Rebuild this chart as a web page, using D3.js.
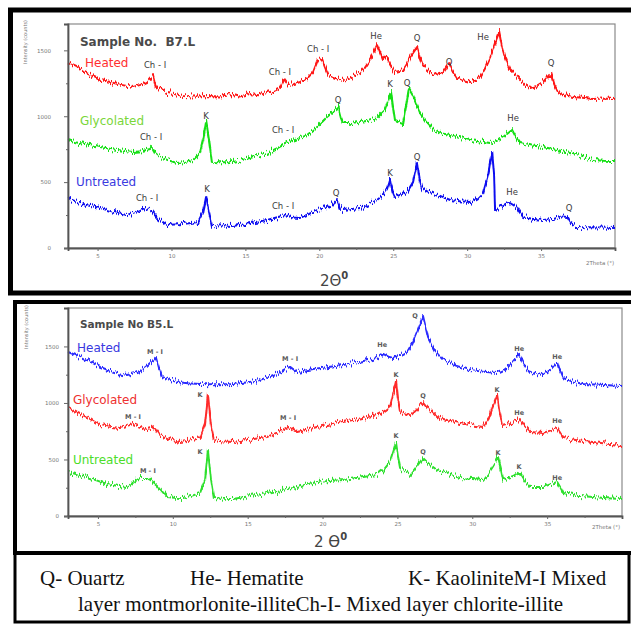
<!DOCTYPE html>
<html><head><meta charset="utf-8">
<script src="https://cdn.jsdelivr.net/npm/d3@7"></script>
<style>
html,body{margin:0;padding:0;background:#fff;}
svg{display:block;}
</style></head><body>
<svg id="fig" width="631" height="626"></svg>
<script>
// ---- Sample B7.L : [2θ (deg), intensity (counts)] ----
const b7Heated = [[3.0,1411],[3.6,1380],[4.2,1330],[5.17,1275],[5.8,1262],[6.5,1240],[7.4,1222],[7.9,1238],[8.35,1260],[8.6,1290],[8.75,1313],[8.95,1222],[9.7,1176],[10.2,1168],[10.78,1153],[11.5,1150],[12.47,1153],[13.3,1150],[14.16,1161],[14.6,1150],[15.3,1168],[15.9,1160],[16.46,1176],[17.0,1195],[17.34,1214],[17.6,1282],[17.9,1237],[18.3,1245],[18.7,1260],[19.2,1290],[19.58,1335],[19.9,1426],[20.19,1434],[20.35,1380],[20.6,1313],[21.1,1290],[21.6,1275],[22.2,1300],[22.76,1328],[23.1,1370],[23.43,1426],[23.9,1540],[24.1,1490],[24.31,1426],[24.58,1449],[24.8,1390],[25.12,1335],[25.67,1350],[25.9,1390],[26.14,1449],[26.61,1525],[26.8,1450],[26.95,1404],[27.3,1350],[27.7,1313],[28.0,1325],[28.37,1335],[28.78,1404],[29.0,1350],[29.32,1297],[29.7,1275],[30.2,1260],[30.5,1270],[30.88,1297],[31.2,1360],[31.55,1449],[31.9,1560],[32.16,1639],[32.35,1530],[32.57,1442],[32.9,1350],[33.2,1320],[33.58,1275],[33.9,1240],[34.26,1214],[34.7,1230],[35.14,1260],[35.45,1300],[35.68,1328],[35.9,1240],[36.15,1184],[36.6,1160],[37.17,1146],[37.8,1140],[38.52,1131],[39.2,1135],[40.0,1131]];
const b7Glycolated = [[3.0,819],[3.6,800],[4.3,785],[5.17,766],[5.9,752],[6.6,740],[7.4,728],[8.0,735],[8.55,751],[8.68,766],[8.9,720],[9.22,690],[9.8,665],[10.37,645],[10.9,652],[11.46,668],[11.93,721],[12.13,819],[12.34,956],[12.54,819],[12.74,653],[13.4,650],[14.16,653],[14.7,665],[15.3,683],[15.9,700],[16.46,721],[17.2,760],[17.82,797],[18.5,825],[19.17,857],[19.85,918],[20.52,994],[20.93,1032],[21.27,1070],[21.45,990],[21.6,948],[22.2,950],[22.76,956],[23.3,965],[23.9,986],[24.45,1047],[24.85,1184],[25.0,1060],[25.12,971],[25.67,948],[25.94,1123],[26.07,1214],[26.34,1161],[26.82,1024],[27.2,960],[27.7,895],[28.3,870],[28.85,857],[29.5,835],[30.2,819],[30.9,808],[31.55,797],[32.0,812],[32.43,842],[33.04,895],[33.3,840],[33.58,797],[34.3,780],[35.14,766],[36.0,745],[36.96,721],[37.7,695],[38.52,668],[39.2,662],[40.0,660]];
const b7Untreated = [[3.0,379],[3.6,350],[4.3,325],[5.17,303],[5.9,280],[6.5,262],[6.99,250],[7.5,270],[7.87,288],[8.21,303],[8.55,296],[9.02,228],[9.7,175],[10.2,178],[10.78,182],[11.3,190],[11.8,197],[12.13,273],[12.34,387],[12.54,273],[12.74,175],[13.4,170],[14.16,167],[14.9,180],[15.6,195],[16.46,212],[17.1,232],[17.68,250],[18.2,232],[18.7,228],[19.3,258],[19.85,288],[20.52,303],[20.9,335],[21.2,364],[21.4,310],[21.6,288],[22.2,296],[22.76,303],[23.3,330],[23.9,364],[24.3,400],[24.58,440],[24.79,516],[24.95,430],[25.12,387],[25.5,405],[25.94,425],[26.34,500],[26.61,645],[26.78,520],[26.95,455],[27.3,430],[27.7,417],[28.3,390],[28.85,364],[29.5,355],[30.2,349],[30.7,375],[31.08,417],[31.42,554],[31.69,728],[31.82,554],[31.89,288],[32.1,300],[32.43,326],[32.9,349],[33.24,326],[33.5,280],[33.78,235],[34.4,222],[35.14,212],[35.9,222],[36.4,240],[36.76,235],[37.0,190],[37.44,159],[38.2,158],[39.0,155],[40.0,152]];

// ---- Sample B5.L ----
const b5Heated = [[3.0,1451],[3.6,1420],[4.27,1381],[4.7,1350],[5.14,1319],[5.8,1285],[6.4,1262],[6.94,1248],[7.4,1262],[7.81,1283],[8.2,1320],[8.48,1354],[8.7,1380],[8.88,1407],[9.08,1310],[9.28,1230],[9.8,1205],[10.28,1186],[11.0,1175],[11.82,1168],[12.9,1165],[14.02,1168],[14.9,1180],[15.83,1204],[16.5,1235],[17.16,1274],[17.5,1300],[17.83,1319],[18.3,1274],[18.8,1285],[19.37,1301],[20.4,1318],[21.37,1336],[22.5,1365],[23.64,1398],[24.04,1434],[24.4,1410],[24.71,1398],[25.2,1420],[25.65,1451],[26.0,1530],[26.31,1628],[26.71,1770],[26.9,1660],[27.05,1575],[27.5,1460],[28.05,1381],[28.9,1330],[29.85,1292],[30.8,1275],[31.66,1265],[32.1,1290],[32.53,1336],[33.13,1434],[33.5,1330],[33.86,1265],[34.3,1255],[34.73,1248],[35.2,1290],[35.67,1363],[35.85,1290],[36.07,1221],[36.7,1190],[37.4,1168],[38.5,1160],[40.0,1150]];
const b5Glycolated = [[3.0,956],[3.6,915],[4.27,876],[4.7,840],[5.14,805],[5.8,790],[6.47,779],[6.9,795],[7.34,814],[7.8,790],[8.28,761],[8.81,779],[9.15,717],[9.8,680],[10.48,655],[11.2,668],[11.82,690],[12.15,805],[12.35,1071],[12.55,805],[12.75,673],[13.4,660],[14.02,655],[15.1,675],[16.29,699],[17.0,740],[17.7,788],[18.3,743],[19.0,765],[19.63,788],[20.5,810],[21.37,832],[22.5,862],[23.64,894],[24.1,925],[24.51,965],[24.91,1195],[25.05,1020],[25.18,920],[25.85,894],[26.3,950],[26.71,1009],[27.2,930],[27.65,876],[28.4,845],[29.19,823],[30.0,800],[30.72,788],[31.1,860],[31.32,956],[31.66,1071],[31.82,930],[31.99,805],[32.53,823],[33.13,858],[33.5,790],[33.86,743],[34.73,735],[35.2,755],[35.67,779],[35.9,730],[36.07,690],[37.0,670],[38.07,655],[39.0,640],[40.0,628]];
const b5Untreated = [[3.0,389],[3.6,370],[4.27,345],[4.9,315],[5.61,283],[6.3,268],[6.94,257],[7.4,300],[7.81,336],[8.28,336],[8.6,310],[8.95,274],[9.3,215],[9.61,168],[10.1,162],[10.68,159],[11.3,180],[11.82,204],[12.15,319],[12.35,584],[12.55,319],[12.75,159],[13.4,152],[14.02,150],[15.1,175],[16.29,204],[17.2,228],[18.03,248],[18.8,275],[19.63,301],[20.5,310],[21.37,319],[22.5,340],[23.64,363],[24.1,410],[24.51,478],[24.91,646],[25.05,520],[25.18,425],[25.85,363],[26.3,440],[26.71,513],[27.2,450],[27.65,407],[28.4,370],[29.19,336],[30.0,328],[30.72,319],[31.1,380],[31.32,425],[31.72,513],[31.9,420],[32.06,319],[32.73,354],[33.13,389],[33.5,310],[33.86,257],[34.73,257],[35.2,280],[35.67,301],[35.9,250],[36.07,204],[37.0,180],[38.07,168],[39.0,158],[40.0,150]];

// Peak annotations: [text, 2θ, counts]
const b7HeatedPeaks = [["Ch - I",8.89,1388],["Ch - I",17.34,1335],["Ch - I",19.92,1510],["He",23.84,1608],["Q",26.61,1593],["Q",28.78,1411],["He",31.08,1601],["Q",35.68,1404]];
const b7GlycolatedPeaks = [["Ch - I",8.62,842],["K",12.34,1002],["Ch - I",17.55,895],["Q",21.27,1123],["K",24.79,1244],["Q",25.94,1252],["He",33.11,986]];
const b7UntreatedPeaks = [["Ch - I",8.35,379],["K",12.4,448],["Ch - I",17.55,319],["Q",21.13,417],["K",24.79,569],["Q",26.61,690],["He",33.04,425],["Q",36.9,303]];
const b5HeatedPeaks = [["M - I",8.81,1451],["M - I",17.83,1389],["He",23.98,1513],["Q",26.18,1770],["He",33.13,1478],["He",35.67,1407]];
const b5GlycolatedPeaks = [["M - I",7.34,876],["K",11.82,1071],["M - I",17.7,867],["K",24.91,1248],["Q",26.71,1062],["K",31.66,1115],["He",33.13,912],["He",35.67,841]];
const b5UntreatedPeaks = [["M - I",8.34,398],["K",11.82,566],["K",24.91,708],["Q",26.71,566],["K",31.72,558],["K",33.13,434],["He",35.67,336]];

// Treatment names and where their captions sit: [text, 2θ, counts]
const b7Captions = [["Heated",4.15,1404],["Glycolated",3.81,964],["Untreated",3.54,501]];
const b5Captions = [["Heated",3.6,1487],["Glycolated",3.33,1027],["Untreated",3.33,496]];

const xMajorTicks = [5,10,15,20,25,30,35];
const xMinorTicks = [7.5,12.5,17.5,22.5,27.5,32.5,37.5];
const yMajorTicks = [0,500,1000,1500];
const yMinorTicks = [250,750,1250];

const legendLine1 = [["Q- Ouartz",40],["He- Hematite",190],["K- KaoliniteM-I Mixed",408]];
const legendLine2 = "layer montmorlonite-illiteCh-I- Mixed layer chlorite-illite";

const svg = d3.select("#fig");
const defs = svg.append("defs");
// vertical-only jitter giving the counting-noise texture of the traces
const f = defs.append("filter").attr("id","noisy")
  .attr("x","-2%").attr("y","-15%").attr("width","104%").attr("height","130%");
f.append("feTurbulence").attr("type","fractalNoise").attr("baseFrequency","0.8 0.06")
  .attr("numOctaves",2).attr("seed",7).attr("result","n");
f.append("feColorMatrix").attr("in","n").attr("type","matrix")
  .attr("values","0 0 0 0 0.5  0 1 0 0 0  0 0 0 0 0.5  0 0 0 0 1").attr("result","ny");
f.append("feDisplacementMap").attr("in","SourceGraphic").attr("in2","ny")
  .attr("scale",10).attr("xChannelSelector","R").attr("yChannelSelector","G").attr("result","d");
f.append("feGaussianBlur").attr("in","d").attr("stdDeviation",0.3);

svg.append("rect").attr("width",631).attr("height",626).attr("fill","#fff");

function panel(cfg){
  const g = svg.append("g");
  const x = d3.scaleLinear().domain([3,40]).range(cfg.xr);
  const y = d3.scaleLinear().domain([0,cfg.ymax]).range(cfg.yr);

  // plot box
  g.append("rect").attr("x",cfg.xr[0]).attr("y",cfg.yr[1])
    .attr("width",cfg.xr[1]-cfg.xr[0]).attr("height",cfg.yr[0]-cfg.yr[1])
    .attr("fill","none").attr("stroke","#8a8a8a").attr("stroke-width",1.2);

  const line = d3.line().x(d=>x(d[0])).y(d=>y(d[1]));
  cfg.series.forEach(s=>{
    g.append("path").datum(s.data).attr("d",line)
      .attr("fill","none").attr("stroke",s.color).attr("stroke-width",2.0)
      .attr("stroke-linejoin","round").attr("filter","url(#noisy)");
  });

  // axes
  g.append("g").attr("transform",`translate(0,${cfg.yr[0]})`)
    .call(d3.axisBottom(x).tickValues(xMajorTicks).tickSize(3).tickPadding(3).tickFormat(d3.format("d")));
  g.append("g").attr("transform",`translate(0,${cfg.yr[0]})`)
    .call(d3.axisBottom(x).tickValues(xMinorTicks).tickSize(2).tickFormat(""))
    .select(".domain").remove();
  g.append("g").attr("transform",`translate(${cfg.xr[0]},0)`)
    .call(d3.axisLeft(y).tickValues(yMajorTicks).tickSize(4).tickPadding(cfg.ypad).tickFormat(d3.format("d")));
  g.append("g").attr("transform",`translate(${cfg.xr[0]},0)`)
    .call(d3.axisLeft(y).tickValues(yMinorTicks).tickSize(2).tickFormat(""))
    .select(".domain").remove();
  g.selectAll(".domain").attr("stroke","#555").attr("stroke-width",1.8);
  g.selectAll(".tick line").attr("stroke","#666");
  g.selectAll(".tick text").attr("fill","#777").attr("font-size",5.5)
    .attr("font-family","DejaVu Sans, sans-serif");

  g.append("text").attr("transform",`translate(${cfg.ytitle[0]},${cfg.ytitle[1]}) rotate(-90)`)
    .attr("text-anchor","middle").attr("font-size",5).attr("fill","#777")
    .attr("font-family","DejaVu Sans, sans-serif").text("Intensity (counts)");
  g.append("text").attr("x",cfg.xtitle[0]).attr("y",cfg.xtitle[1])
    .attr("font-size",5.5).attr("fill","#777")
    .attr("font-family","DejaVu Sans, sans-serif").text("2Theta (°)");

  // sample name
  g.append("text").attr("x",x(cfg.title[1])).attr("y",y(cfg.title[2]))
    .attr("dominant-baseline","central").attr("font-size",cfg.titleSize).attr("font-weight","bold")
    .style("white-space","pre")
    .attr("fill","#4a4a4a").attr("font-family","DejaVu Sans, sans-serif").text(cfg.title[0]);

  cfg.series.forEach(s=>{
    g.append("text").attr("x",x(s.caption[1])).attr("y",y(s.caption[2]))
      .attr("dominant-baseline","central").attr("font-size",cfg.capSize)
      .attr("fill",s.capColor).attr("font-family","DejaVu Sans, sans-serif").text(s.caption[0]);
    g.selectAll(null).data(s.peaks).join("text")
      .attr("x",d=>x(d[1])).attr("y",d=>y(d[2]))
      .attr("text-anchor","middle").attr("dominant-baseline","central")
      .attr("font-size",cfg.peakSize).attr("font-weight",cfg.peakWeight).attr("fill",cfg.peakColor)
      .attr("font-family","DejaVu Sans, sans-serif").text(d=>d[0]);
  });

  // 2θ label
  const t = g.append("text").attr("x",cfg.theta[0]).attr("y",cfg.theta[1])
    .attr("font-size",15).attr("fill","#444").attr("font-family","DejaVu Sans, sans-serif");
  t.append("tspan").text(cfg.thetaText);
  t.append("tspan").attr("font-size",10).attr("dy",-7).attr("font-weight","bold").text("0");
}

panel({
  xr:[68,615], yr:[248,24], ymax:1700, ypad:13,
  ytitle:[27,42], xtitle:[586,265], theta:[320,286], thetaText:"2Θ",
  title:["Sample No.  B7.L",3.81,1563], titleSize:12, capSize:12,
  peakSize:8.5, peakWeight:"normal", peakColor:"#3a3a3a",
  series:[
    {data:b7Heated,color:"#ff1414",capColor:"#ff3030",caption:b7Captions[0],peaks:b7HeatedPeaks},
    {data:b7Glycolated,color:"#12e012",capColor:"#7ad63a",caption:b7Captions[1],peaks:b7GlycolatedPeaks},
    {data:b7Untreated,color:"#1010f0",capColor:"#3a3ae0",caption:b7Captions[2],peaks:b7UntreatedPeaks}
  ]
});
panel({
  xr:[68,622], yr:[516,308], ymax:1840, ypad:5,
  ytitle:[28,327], xtitle:[592,529], theta:[314,547], thetaText:"2 ϴ",
  title:["Sample No B5.L",3.8,1699], titleSize:10.5, capSize:12,
  peakSize:6.5, peakWeight:"bold", peakColor:"#5a5a5a",
  series:[
    {data:b5Heated,color:"#2a2aff",capColor:"#3838e0",caption:b5Captions[0],peaks:b5HeatedPeaks},
    {data:b5Glycolated,color:"#ff2a2a",capColor:"#ee3030",caption:b5Captions[1],peaks:b5GlycolatedPeaks},
    {data:b5Untreated,color:"#2ee02e",capColor:"#4cdd2a",caption:b5Captions[2],peaks:b5UntreatedPeaks}
  ]
});

// frames
svg.append("rect").attr("x",10.5).attr("y",10).attr("width",640).attr("height",283)
  .attr("fill","none").attr("stroke","#000").attr("stroke-width",5);
svg.append("rect").attr("x",15).attr("y",302).attr("width",640).attr("height",251)
  .attr("fill","none").attr("stroke","#000").attr("stroke-width",4);
svg.append("rect").attr("x",15).attr("y",553).attr("width",614).attr("height",69)
  .attr("fill","none").attr("stroke","#000").attr("stroke-width",3);

// mineral key
const lg = svg.append("g").attr("font-family","Liberation Serif, Times New Roman, serif")
  .attr("font-size",21).attr("fill","#111");
lg.selectAll(null).data(legendLine1).join("text")
  .attr("x",d=>d[1]).attr("y",585).text(d=>d[0]);
lg.append("text").attr("x",78).attr("y",611).text(legendLine2);
</script>
</body></html>
